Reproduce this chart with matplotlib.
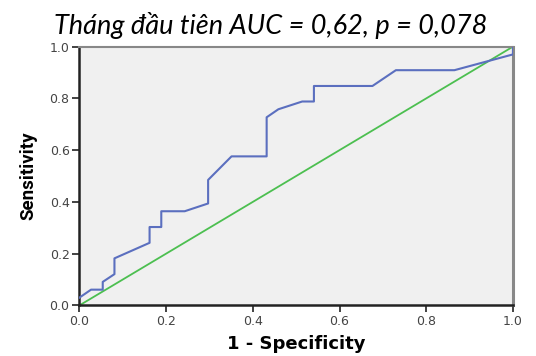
import matplotlib
matplotlib.use("Agg")
import matplotlib.pyplot as plt

fpr = [0.0, 0.027, 0.054, 0.054, 0.081, 0.081, 0.162, 0.162, 0.189, 0.189, 0.243,
       0.297, 0.297, 0.351, 0.432, 0.432, 0.459, 0.514, 0.541, 0.541, 0.676,
       0.730, 0.865, 1.0, 1.0]
tpr = [0.030, 0.061, 0.061, 0.091, 0.121, 0.182, 0.242, 0.303, 0.303, 0.364, 0.364,
       0.394, 0.485, 0.576, 0.576, 0.727, 0.758, 0.788, 0.788, 0.848, 0.848,
       0.909, 0.909, 0.970, 1.0]
ref = [0.0, 1.0]
ticks = [0.0, 0.2, 0.4, 0.6, 0.8, 1.0]
title = "Tháng đầu tiên AUC = 0,62, p = 0,078"

fig = plt.figure(figsize=(5.36, 3.56), dpi=100)
ax = fig.add_axes([0.148, 0.142, 0.809, 0.727])
ax.set_facecolor("#f0f0f0")
ax.plot(ref, ref, color="#4cbf50", lw=1.3, zorder=2)
ax.plot(fpr, tpr, color="#5b6fbf", lw=1.5, zorder=3)
ax.set_xlim(0, 1)
ax.set_ylim(0, 1)
ax.set_xticks(ticks)
ax.set_yticks(ticks)
ax.set_xticklabels([f"{t:.1f}" for t in ticks])
ax.set_yticklabels([f"{t:.1f}" for t in ticks])
ax.tick_params(direction="out", length=5, width=1.2, colors="#222222",
               labelsize=9, labelcolor="#444444", pad=2)
for s in ["left", "bottom"]:
    ax.spines[s].set_color("#222222")
    ax.spines[s].set_linewidth(1.8)
ax.spines["top"].set_color("#888888")
ax.spines["top"].set_linewidth(1.5)
ax.spines["right"].set_color("#888888")
ax.spines["right"].set_linewidth(2.2)

ax.set_xlabel("1 - Specificity", fontsize=13, fontweight="bold",
              family="DejaVu Sans", labelpad=5)
ax.set_ylabel("Sensitivity", fontsize=13.5, fontweight="bold",
              family=["Roboto", "DejaVu Sans"], labelpad=9)
fig.text(0.505, 0.905, title, ha="center", va="baseline", fontsize=19.5,
         style="italic", family=["Lato", "DejaVu Sans"])
fig.savefig("out.png", dpi=100)
